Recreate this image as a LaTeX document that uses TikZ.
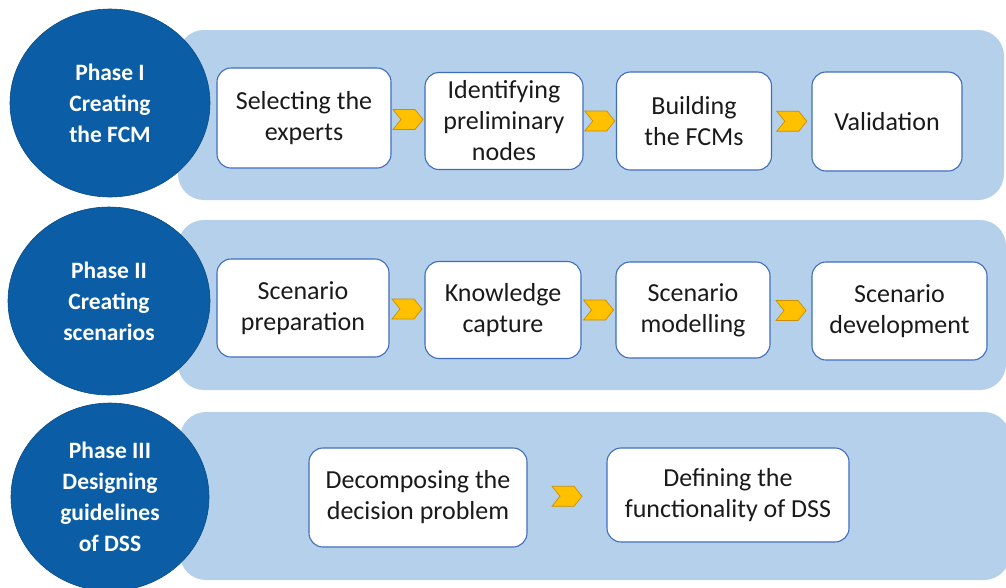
\documentclass[tikz,border=0pt]{standalone}
\usepackage{fontspec}
\setmainfont{Carlito}
\usetikzlibrary{calc,shapes.geometric}

\definecolor{phaseblue}{HTML}{0B5EA6}
\definecolor{bandblue}{HTML}{B5D0EA}
\definecolor{boxline}{HTML}{3F6DBF}
\definecolor{chevfill}{HTML}{FFC000}
\definecolor{chevline}{HTML}{C98F00}
\definecolor{txt}{HTML}{1A1A1A}

\tikzset{
  band/.style={fill=bandblue, draw=none, rounded corners=26pt},
  phase/.style={ellipse, fill=phaseblue, draw=phaseblue!80!black, line width=0.6pt,
    text=white, font=\fontsize{23.5}{31}\selectfont\bfseries, align=center, inner sep=0pt},
  stepbox/.style={draw=boxline, fill=white, line width=1.1pt, rounded corners=14pt,
    text=txt, font=\fontsize{26}{31}\selectfont, align=center, inner sep=0pt},
  chev/.style={fill=chevfill, draw=chevline, line width=0.7pt, line join=miter}
}

% chevron centred halfway between two named nodes
\newcommand\chevbetween[2]{%
  \coordinate (m#1#2) at ($(#1.east)!0.5!(#2.west)$);
  \draw[chev] ([shift={(-15,-10)}]m#1#2) -- ++(22,0) -- ++(8,10) -- ++(-8,10)
    -- ++(-22,0) -- ++(8,-10) -- cycle;}

\begin{document}
\begin{tikzpicture}[x=1pt, y=-1pt]
  \useasboundingbox (0,0) rectangle (1006,587);
  \fill[white] (0,0) rectangle (1006,587);

  % background bands
  \fill[band] (178,30) rectangle (1004,200);
  \fill[band] (178,220) rectangle (1006,390);
  \fill[band] (180,412) rectangle (1010,580);

  % phase discs
  \node[phase, minimum width=200pt, minimum height=188pt] (p1) at (110,103)
    {Phase I\\Creating\\the FCM};
  \node[phase, minimum width=202pt, minimum height=188pt] (p2) at (109,301)
    {Phase II\\Creating\\scenarios};
  \node[phase, minimum width=198pt, minimum height=188pt] (p3) at (110,497)
    {Phase III\\Designing\\guidelines\\of DSS};

  % phase I steps
  \node[stepbox, minimum width=174pt, minimum height=100pt] (a1) at (304,118)
    {Selecting the\\experts};
  \node[stepbox, minimum width=158pt, minimum height=97pt] (a2) at (504,121)
    {Identifying\\preliminary\\nodes};
  \node[stepbox, minimum width=155pt, minimum height=98pt] (a3) at (694,121)
    {Building\\the FCMs};
  \node[stepbox, minimum width=150pt, minimum height=99pt] (a4) at (887,121.5)
    {Validation};

  % phase II steps
  \node[stepbox, minimum width=172pt, minimum height=98pt] (b1) at (303,308)
    {Scenario\\preparation};
  \node[stepbox, minimum width=156pt, minimum height=97pt] (b2) at (503,310)
    {Knowledge\\capture};
  \node[stepbox, minimum width=154pt, minimum height=96pt] (b3) at (693,310)
    {Scenario\\modelling};
  \node[stepbox, minimum width=175pt, minimum height=98pt] (b4) at (899.5,311)
    {Scenario\\development};

  % phase III steps
  \node[stepbox, minimum width=218pt, minimum height=99pt] (c1) at (418,497.5)
    {Decomposing the\\decision problem};
  \node[stepbox, minimum width=242pt, minimum height=94pt] (c2) at (728,495)
    {Defining the\\functionality of DSS};

  % chevrons between steps
  \chevbetween{a1}{a2}
  \chevbetween{a2}{a3}
  \chevbetween{a3}{a4}
  \chevbetween{b1}{b2}
  \chevbetween{b2}{b3}
  \chevbetween{b3}{b4}
  \chevbetween{c1}{c2}
\end{tikzpicture}
\end{document}
